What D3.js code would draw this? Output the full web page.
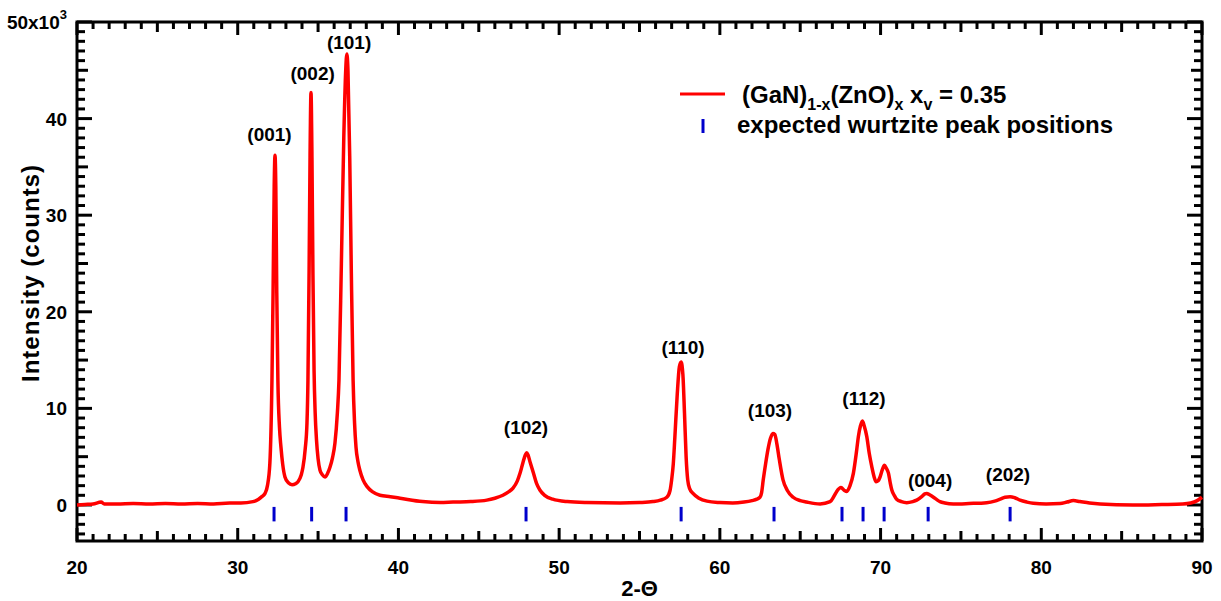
<!DOCTYPE html>
<html>
<head>
<meta charset="utf-8">
<script src="https://cdn.jsdelivr.net/npm/d3@7"></script>
<style>
  body { margin: 0; background: #fff; }
  svg text { font-family: 'Liberation Sans', Arial, sans-serif; font-weight: bold; fill: #000; }
</style>
</head>
<body>
<div class="chart"></div>
<script>
// 2-theta (degrees) and intensity (x10^3 counts)
const twoTheta = [
  20.0, 20.5, 21.0, 21.5, 21.7, 22.5, 23.5, 24.5, 25.5, 26.5, 27.5, 28.5, 29.5, 30.2,
  30.95, 31.3, 31.5, 31.7, 31.85, 32.0, 32.13, 32.2, 32.27, 32.32, 32.37, 32.43, 32.5,
  32.6, 32.69, 32.8, 32.94, 33.15, 33.38, 33.6, 33.75, 33.95, 34.06, 34.2, 34.31, 34.37,
  34.44, 34.5, 34.56, 34.62, 34.68, 34.75, 34.82, 34.9, 35.0, 35.12, 35.28, 35.43,
  35.6, 35.74, 35.9, 36.05, 36.2, 36.3, 36.45, 36.6, 36.72, 36.79, 36.86, 36.97, 37.07,
  37.18, 37.27, 37.36, 37.48, 37.6, 37.8, 38.05, 38.4, 38.85, 39.5, 40.1, 41.5, 42.6,
  43.4, 44.5, 45.5, 46.0, 46.5, 46.85, 47.13, 47.4, 47.57, 47.75, 47.9, 47.98, 48.06,
  48.2, 48.4, 48.6, 48.8, 49.1, 49.6, 50.5, 51.7, 53.8, 55.0, 55.84, 56.3, 56.7, 56.9,
  57.0, 57.1, 57.2, 57.35, 57.48, 57.59, 57.7, 57.8, 57.9, 58.0, 58.12, 58.33, 58.7,
  59.2, 60.0, 60.8, 61.5, 62.0, 62.3, 62.5, 62.6, 62.7, 62.85, 63.0, 63.15, 63.3, 63.42,
  63.55, 63.7, 63.93, 64.2, 64.56, 65.0, 65.4, 66.24, 66.86, 67.1, 67.27, 67.54, 67.75,
  67.9, 68.1, 68.31, 68.5, 68.62, 68.75, 68.87, 68.98, 69.14, 69.3, 69.45, 69.6, 69.72,
  69.85, 69.97, 70.12, 70.24, 70.36, 70.49, 70.6, 70.7, 70.85, 71.0, 71.3, 71.63, 72.0,
  72.25, 72.56, 72.75, 72.87, 73.05, 73.29, 73.5, 73.7, 74.0, 74.53, 75.5, 76.6, 77.1,
  77.44, 77.75, 78.06, 78.35, 78.68, 79.1, 79.5, 80.3, 81.17, 81.6, 82.0, 82.4, 83.0,
  83.66, 85.7, 87.5, 88.8, 89.3, 89.7, 90.0
];
const intensity = [
  0.0, 0.05, 0.1, 0.3, 0.1, 0.1, 0.15, 0.1, 0.15, 0.1, 0.15, 0.1, 0.2, 0.2,
  0.35, 0.6, 0.86, 1.2, 2.0, 4.3, 12.9, 22, 33, 36.2, 33, 22, 12.9,
  8.0, 6.0, 4.2, 2.9, 2.3, 2.1, 2.2, 2.4, 3.1, 3.9, 5.8, 8.5, 12.9,
  24, 36, 42.7, 36, 24, 14, 9.5, 6.8, 4.8, 3.6, 3.1, 2.9,
  3.3, 3.9, 4.9, 6.4, 9.5, 12.9, 25, 38, 45, 46.7, 45, 36, 24,
  12.9, 8.5, 6.0, 4.5, 3.6, 2.6, 1.9, 1.35, 1.0, 0.85, 0.7, 0.35, 0.25,
  0.3, 0.35, 0.5, 0.7, 1.0, 1.35, 1.75, 2.5, 3.3, 4.4, 5.2, 5.4, 5.2,
  4.4, 3.3, 2.2, 1.55, 1.0, 0.6, 0.35, 0.25, 0.2, 0.25, 0.35, 0.5, 0.8, 1.5,
  2.6, 4.2, 7.0, 11.5, 14.3, 14.8, 13.5, 9.5, 5.0, 2.6, 1.7, 1.2, 0.7,
  0.4, 0.25, 0.2, 0.3, 0.45, 0.6, 0.8, 1.3, 2.6, 4.3, 5.8, 6.9, 7.4, 7.3,
  6.3, 4.7, 2.6, 1.5, 0.8, 0.45, 0.3, 0.1, 0.34, 0.9, 1.4, 1.8, 1.5,
  1.4, 2.0, 3.3, 5.5, 7.1, 8.2, 8.7, 8.2, 7.1, 5.3, 4.0, 2.9, 2.4,
  2.5, 2.9, 3.7, 4.1, 3.8, 3.3, 2.3, 1.55, 1.0, 0.6, 0.35, 0.24, 0.35,
  0.5, 0.86, 1.15, 1.2, 1.05, 0.8, 0.55, 0.34, 0.2, 0.1, 0.15, 0.24, 0.4,
  0.6, 0.8, 0.86, 0.75, 0.5, 0.3, 0.17, 0.1, 0.15, 0.3, 0.45, 0.35, 0.2,
  0.1, 0.0, 0.05, 0.1, 0.2, 0.45, 0.8
];

// expected wurtzite peak positions (2-theta)
const wurtzitePeaks = [32.26, 34.6, 36.74, 47.94, 57.59, 63.37, 67.6, 68.91, 70.22, 72.96, 78.06];

// peak labels with their anchor (2-theta, intensity x10^3)
const peakNames = ['(001)', '(002)', '(101)', '(102)', '(110)', '(103)', '(112)', '(004)', '(202)'];
const peakNameX = [31.98, 34.66, 36.93, 47.94, 57.71, 63.12, 68.97, 73.08, 77.93];
const peakNameY = [37.7, 44.0, 47.2, 7.35, 15.6, 9.1, 10.35, 1.86, 2.5];

const xTickLabels = [20, 30, 40, 50, 60, 70, 80, 90];
const yTickLabels = [0, 10, 20, 30, 40, 50];

const W = 1221, H = 601;
const margin = { left: 77, right: 1202, top: 22, bottom: 541 };

const svg = d3.select('.chart').append('svg')
  .attr('width', W)
  .attr('height', H);

const x = d3.scaleLinear().domain([20, 90]).range([margin.left, margin.right]);
const y = d3.scaleLinear().domain([-3.73, 50]).range([margin.bottom, margin.top]);

// ticks: minor every 1, medium at 5, major at 10
const xTickLen = (v) => (v % 10 === 0 ? 13 : v % 5 === 0 ? 10 : 7);
const yTickLen = (v) => (v % 10 === 0 ? 15 : v % 5 === 0 ? 11 : 8);
const xTicks = d3.range(20, 91, 1);
const yTicks = d3.range(-3, 51, 1);

const tickG = svg.append('g').attr('stroke', '#000').attr('stroke-width', 3);
xTicks.forEach((v) => {
  tickG.append('line')
    .attr('x1', x(v)).attr('x2', x(v))
    .attr('y1', margin.bottom).attr('y2', margin.bottom - xTickLen(v));
  tickG.append('line')
    .attr('x1', x(v)).attr('x2', x(v))
    .attr('y1', margin.top).attr('y2', margin.top + xTickLen(v));
});
yTicks.forEach((v) => {
  tickG.append('line')
    .attr('x1', margin.left).attr('x2', margin.left + yTickLen(v))
    .attr('y1', y(v)).attr('y2', y(v));
  tickG.append('line')
    .attr('x1', margin.right).attr('x2', margin.right - yTickLen(v))
    .attr('y1', y(v)).attr('y2', y(v));
});

// frame
svg.append('rect')
  .attr('x', margin.left).attr('y', margin.top)
  .attr('width', margin.right - margin.left).attr('height', margin.bottom - margin.top)
  .attr('fill', 'none')
  .attr('stroke', '#000')
  .attr('stroke-width', 3);

// tick labels
svg.append('g').selectAll('text')
  .data(xTickLabels)
  .enter()
  .append('text')
  .attr('x', (d) => x(d))
  .attr('y', margin.bottom + 33)
  .attr('text-anchor', 'middle')
  .style('font-size', '19px')
  .text((d) => d);

const yLab = svg.append('g').selectAll('text')
  .data(yTickLabels)
  .enter()
  .append('text')
  .attr('x', 67)
  .attr('y', (d) => y(d) + 7)
  .attr('text-anchor', 'end')
  .style('font-size', '19px');
yLab.filter((d) => d !== 50).text((d) => d);
yLab.filter((d) => d === 50).each(function () {
  const t = d3.select(this);
  t.append('tspan').text('50x10');
  t.append('tspan').attr('dy', -10).style('font-size', '13px').text('3');
});

// axis titles
svg.append('text')
  .attr('x', x(55))
  .attr('y', 596)
  .attr('text-anchor', 'middle')
  .style('font-size', '22px')
  .text('2-\u0398');

svg.append('text')
  .attr('transform', 'translate(39,273) rotate(-90)')
  .attr('text-anchor', 'middle')
  .style('font-size', '24px')
  .style('letter-spacing', '1px')
  .text('Intensity (counts)');

// expected peak markers
svg.append('g').selectAll('line')
  .data(wurtzitePeaks)
  .enter()
  .append('line')
  .attr('x1', (d) => x(d)).attr('x2', (d) => x(d))
  .attr('y1', y(-0.2)).attr('y2', y(-1.7))
  .attr('stroke', '#0000cc')
  .attr('stroke-width', 3);

// data curve
const pts = twoTheta.map((t, i) => [t, intensity[i]]);
const line = d3.line()
  .x((d) => x(d[0]))
  .y((d) => y(d[1]))
  .curve(d3.curveMonotoneX);
svg.append('path')
  .datum(pts)
  .attr('d', line)
  .attr('fill', 'none')
  .attr('stroke', '#ff0000')
  .attr('stroke-width', 3.5)
  .attr('stroke-linejoin', 'round');

// peak labels
svg.append('g').selectAll('text')
  .data(peakNames)
  .enter()
  .append('text')
  .attr('x', (d, i) => x(peakNameX[i]))
  .attr('y', (d, i) => y(peakNameY[i]))
  .attr('text-anchor', 'middle')
  .style('font-size', '19px')
  .text((d) => d);

// legend
const lg = svg.append('g');
lg.append('line')
  .attr('x1', 680).attr('x2', 725)
  .attr('y1', 94).attr('y2', 94)
  .attr('stroke', '#ff0000')
  .attr('stroke-width', 3);
lg.append('line')
  .attr('x1', 703).attr('x2', 703)
  .attr('y1', 119).attr('y2', 133)
  .attr('stroke', '#0000cc')
  .attr('stroke-width', 3);

const l1 = lg.append('text')
  .attr('x', 742)
  .attr('y', 103)
  .style('font-size', '24px');
l1.append('tspan').text('(GaN)');
l1.append('tspan').attr('dy', 7).style('font-size', '16px').text('1-x');
l1.append('tspan').attr('dy', -7).text('(ZnO)');
l1.append('tspan').attr('dy', 7).style('font-size', '16px').text('x');
l1.append('tspan').attr('dy', -7).text(' x');
l1.append('tspan').attr('dy', 7).style('font-size', '16px').text('v');
l1.append('tspan').attr('dy', -7).text(' = 0.35');

lg.append('text')
  .attr('x', 737)
  .attr('y', 133)
  .style('font-size', '24px')
  .text('expected wurtzite peak positions');
</script>
</body>
</html>
